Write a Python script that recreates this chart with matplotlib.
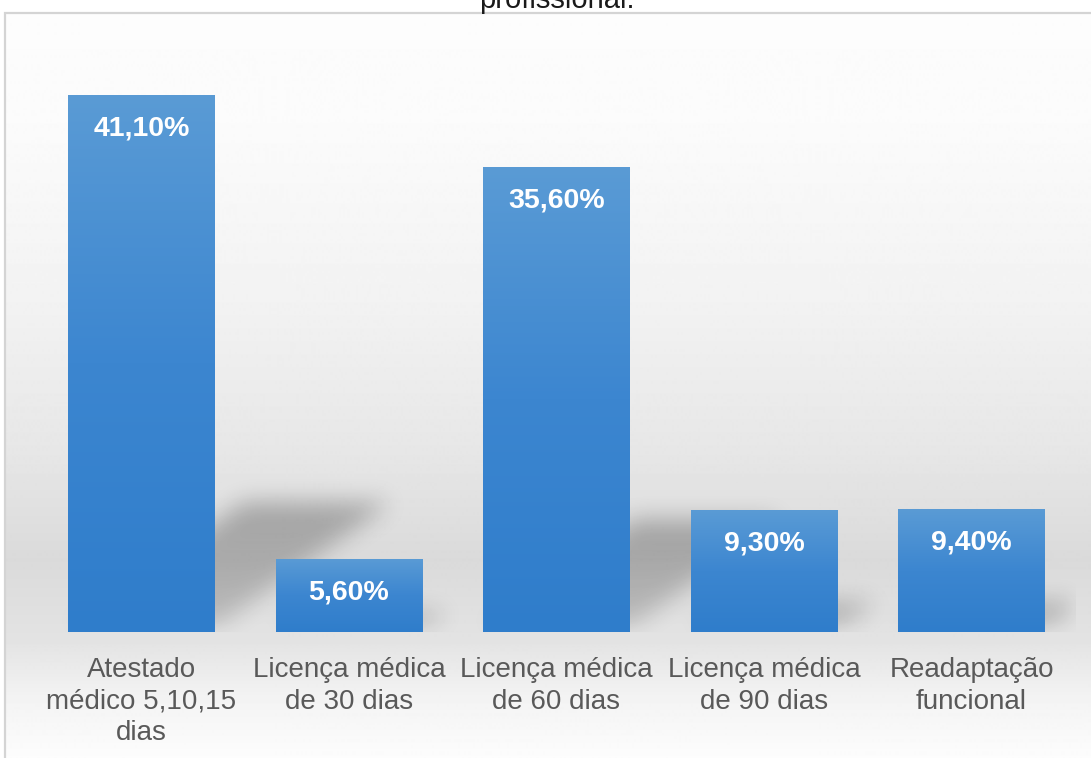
import numpy as np
import matplotlib
matplotlib.use('Agg')
import matplotlib.pyplot as plt
from matplotlib.patches import Rectangle
from matplotlib.path import Path
from matplotlib.colors import LinearSegmentedColormap

plt.rcParams['font.family'] = ['Liberation Sans', 'DejaVu Sans']

categories = ['Atestado\nmédico 5,10,15\ndias', 'Licença médica\nde 30 dias',
              'Licença médica\nde 60 dias', 'Licença médica\nde 90 dias',
              'Readaptação\nfuncional']
values = [41.10, 5.60, 35.60, 9.30, 9.40]
value_labels = ['41,10%', '5,60%', '35,60%', '9,30%', '9,40%']
title = 'profissional.'

W, H = 1091, 758
fig = plt.figure(figsize=(W / 100, H / 100), dpi=100)
fig.patch.set_facecolor('white')

# chart area background (vertical grey gradient)
bg = fig.add_axes([4 / W, 0, 1 - 4 / W, (H - 13) / H])
ys = np.array([13, 120, 300, 450, 560, 640, 700, 758])
gs = np.array([0.99, 0.985, 0.95, 0.905, 0.855, 0.89, 0.955, 0.99])
yy = np.arange(13, 759)
col = np.interp(yy, ys, gs)
img = np.repeat(col[:, None], 2, axis=1)
bg.imshow(img, cmap='gray', vmin=0, vmax=1, aspect='auto', extent=(0, 1, 0, 1))
bg.set_xlim(0, 1)
bg.set_ylim(0, 1)
bg.axis('off')
fig.patches.append(Rectangle((5 / W, -0.01), 1.0, (H - 13) / H + 0.01, transform=fig.transFigure,
                             fill=False, edgecolor='#d4d4d4', lw=1.6))

# title of the chart, cut off at the top edge as in the source
fig.text(557 / W, 1 - 8 / H, title, ha='center', va='baseline', fontsize=21, color='#1a1a1a')

ax = fig.add_axes([37.75 / W, (H - 632) / H, 1037.5 / W, 588 / H])
ax.patch.set_alpha(0)
x = np.arange(len(values))
bars = ax.bar(x, values, width=0.708, color='none', zorder=3)

# perspective shadows: skewed copies of the bars, blurred
nx, ny = 620, 340
gx = np.linspace(-0.5, 4.5, nx)
gy = np.linspace(0, 45, ny)
XX, YY = np.meshgrid(gx, gy)
pts_grid = np.column_stack([XX.ravel(), YY.ravel()])
mask = np.zeros(XX.shape)
for b, v in zip(bars, values):
    x0, x1 = b.get_x(), b.get_width() + b.get_x()
    dx = 0.0205 * v
    top = 0.24 * v
    poly = Path([(x0 + 0.01, 0.3), (x1, 0.3), (x1 + dx, top), (x0 + dx, top)])
    inside = poly.contains_points(pts_grid).reshape(XX.shape).astype(float)
    rel = np.clip(YY / max(top, 1e-6), 0, 1)
    mask = np.maximum(mask, inside * (0.6 + 0.4 * rel))
k = np.ones(13) / 13
for _ in range(3):
    mask = np.apply_along_axis(lambda r: np.convolve(r, k, mode='same'), 1, mask)
    mask = np.apply_along_axis(lambda c: np.convolve(c, k, mode='same'), 0, mask)
shadow = np.zeros(mask.shape + (4,))
shadow[..., 3] = mask * 0.27
ax.imshow(shadow, origin='lower', aspect='auto', extent=(-0.5, 4.5, 0, 45), zorder=1,
          interpolation='bilinear')

# gradient fill of the bars
cmap = LinearSegmentedColormap.from_list('blue', ['#2F7DCB', '#3C86D0', '#5A9BD5'])
grad = np.linspace(0, 1, 256)[:, None]
for b in bars:
    x0, w, h = b.get_x(), b.get_width(), b.get_height()
    im = ax.imshow(grad, cmap=cmap, aspect='auto', origin='lower',
                   extent=(x0, x0 + w, 0, h), zorder=2)
    im.set_clip_path(b)

for xi, v, lab in zip(x, values, value_labels):
    ax.annotate(lab, (xi, v), xytext=(0, -24), textcoords='offset points',
                ha='center', va='center', color='white', fontsize=20.5, fontweight='bold', zorder=4)

ax.set_xlim(-0.5, len(values) - 0.5)
ax.set_ylim(0, 45)
ax.set_xticks(x)
ax.set_xticklabels(categories, fontsize=20, color='#595959', linespacing=1.28)
ax.tick_params(axis='x', length=0, pad=18)
ax.set_yticks([])
for s in ax.spines.values():
    s.set_visible(False)

fig.savefig('out.png', dpi=100)
